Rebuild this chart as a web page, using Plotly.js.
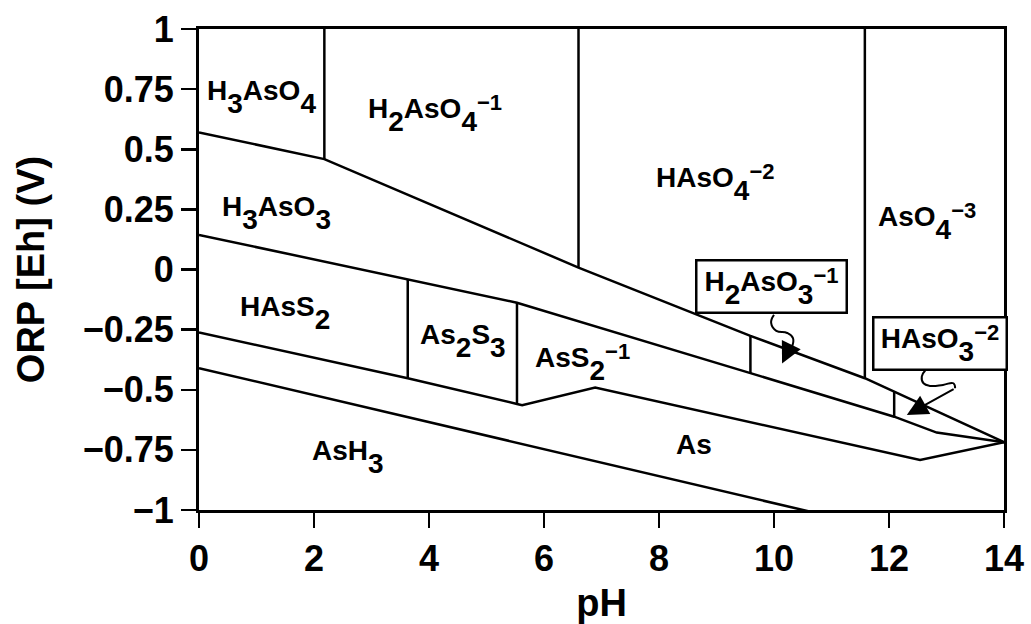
<!DOCTYPE html>
<html>
<head>
<meta charset="utf-8">
<script src="https://cdn.plot.ly/plotly-3.0.1.min.js"></script>
<style>
  html, body { margin: 0; padding: 0; background: #fff; }
  #chart { width: 1031px; height: 624px; }
</style>
</head>
<body>
<div id="chart"></div>
<script>
// ---- Data read from the Pourbaix (Eh-pH) diagram of arsenic ----
// As(V)/As(III) redox boundary
var redoxUpperPH = [0, 2.18, 6.6, 9.59, 11.58, 14];
var redoxUpperE  = [0.570, 0.459, 0.008, -0.276, -0.452, -0.718];
// As(III) oxyanion / sulfide boundary
var sulfideUpperPH = [0, 3.63, 5.53, 9.59, 12.09, 12.83, 14];
var sulfideUpperE  = [0.144, -0.043, -0.138, -0.431, -0.612, -0.678, -0.718];
// sulfide / native As boundary
var arsenicUpperPH = [0, 3.63, 5.53, 5.62, 6.89, 12.54, 14];
var arsenicUpperE  = [-0.262, -0.452, -0.559, -0.564, -0.491, -0.792, -0.718];
// As / AsH3 boundary
var arsineUpperPH = [0, 10.72];
var arsineUpperE  = [-0.410, -1.012];
// vertical (acid-base) boundaries
var vertPH     = [2.18, 6.6, 11.58, 3.63, 5.53, 9.59, 12.09];
var vertTopE   = [1, 1, 1, -0.043, -0.138, -0.276, -0.508];
var vertBotE   = [0.459, 0.008, -0.452, -0.452, -0.559, -0.431, -0.612];

// species labels (formula parts: base text, subscript digits, charges)
function sub(d) { return '<sub><span style="font-size:28px;baseline-shift:-7px">' + d + '</span></sub>'; }
function sup(s) { return '<sup><span style="font-size:22px;baseline-shift:-4px">' + s + '</span></sup>'; }
var labelText = [
  'H' + sub('3') + 'AsO' + sub('4'),
  'H' + sub('2') + 'AsO' + sub('4') + sup('\u22121'),
  'H' + sub('3') + 'AsO' + sub('3'),
  'HAsO' + sub('4') + sup('\u22122'),
  'AsO' + sub('4') + sup('\u22123'),
  'HAsS' + sub('2'),
  'As' + sub('2') + 'S' + sub('3'),
  'AsS' + sub('2') + sup('\u22121'),
  'AsH' + sub('3'),
  'As'
];
var labelPH = [1.085, 4.10, 1.34, 8.97, 12.66, 1.50, 4.59, 6.67, 2.59, 8.61];
var labelE  = [0.717, 0.648, 0.236, 0.360, 0.201, -0.181, -0.297, -0.386, -0.781, -0.727];

// boxed labels with squiggly pointers
var boxText = [
  'H' + sub('2') + 'AsO' + sub('3') + sup('\u22121'),
  'HAsO' + sub('3') + sup('\u22122')
];
var boxPH = [9.95, 12.88];
var boxE  = [-0.071, -0.306];

var squiggle1PH = [10.00, 9.95, 10.04, 10.23, 10.33, 10.31, 10.23];
var squiggle1E  = [-0.189, -0.222, -0.255, -0.264, -0.285, -0.322, -0.347];
var arrow1TipPH = 10.14, arrow1TipE = -0.391;

var squiggle2PH = [12.63, 12.57, 12.60, 12.71, 12.94, 13.12, 13.15];
var squiggle2E  = [-0.420, -0.445, -0.473, -0.484, -0.480, -0.473, -0.494];
var arrow2TipPH = 12.31, arrow2TipE = -0.605;

var xTickVals = [0, 2, 4, 6, 8, 10, 12, 14];
var xTickText = ['0', '2', '4', '6', '8', '10', '12', '14'];
var yTickVals = [-1, -0.75, -0.5, -0.25, 0, 0.25, 0.5, 0.75, 1];
var yTickText = ['\u22121', '\u22120.75', '\u22120.5', '\u22120.25', '0', '0.25', '0.5', '0.75', '1'];

// ---- Build traces ----
var FONT = 'Arial, "Liberation Sans", Helvetica, sans-serif';
var lineStyle = { color: '#000', width: 2.5 };

function lineTrace(x, y, extra) {
  return { x: x, y: y, mode: 'lines', type: 'scatter', hoverinfo: 'skip',
           showlegend: false, line: Object.assign({}, lineStyle, extra || {}) };
}

var vx = [], vy = [];
for (var i = 0; i < vertPH.length; i++) {
  vx.push(vertPH[i], vertPH[i], null);
  vy.push(vertTopE[i], vertBotE[i], null);
}

var traces = [
  lineTrace(redoxUpperPH, redoxUpperE),
  lineTrace(sulfideUpperPH, sulfideUpperE),
  lineTrace(arsenicUpperPH, arsenicUpperE),
  lineTrace(arsineUpperPH, arsineUpperE),
  lineTrace(vx, vy),
  lineTrace(squiggle1PH, squiggle1E, { width: 2, shape: 'spline', smoothing: 1.3 }),
  lineTrace(squiggle2PH, squiggle2E, { width: 2, shape: 'spline', smoothing: 1.3 })
];

var labelFont = { family: FONT, size: 28, color: '#000', weight: 'bold' };
var annotations = [];
for (var j = 0; j < labelText.length; j++) {
  annotations.push({
    x: labelPH[j], y: labelE[j], xref: 'x', yref: 'y', text: labelText[j],
    showarrow: false, xanchor: 'center', yanchor: 'middle', font: labelFont
  });
}
var boxW = [148, 131];
for (var k = 0; k < boxText.length; k++) {
  annotations.push({
    x: boxPH[k], y: boxE[k], xref: 'x', yref: 'y', text: boxText[k],
    showarrow: false, xanchor: 'center', yanchor: 'middle',
    bordercolor: '#000', borderwidth: 2.5, borderpad: 0,
    width: boxW[k], height: 50, bgcolor: '#fff', font: labelFont
  });
}
annotations.push({
  x: arrow1TipPH, y: arrow1TipE, xref: 'x', yref: 'y',
  ax: squiggle1PH[squiggle1PH.length - 1], ay: squiggle1E[squiggle1E.length - 1],
  axref: 'x', ayref: 'y', text: '', showarrow: true,
  arrowhead: 2, arrowsize: 2.1, arrowwidth: 2, arrowcolor: '#000', standoff: 0
});
annotations.push({
  x: arrow2TipPH, y: arrow2TipE, xref: 'x', yref: 'y',
  ax: squiggle2PH[squiggle2PH.length - 1], ay: squiggle2E[squiggle2E.length - 1],
  axref: 'x', ayref: 'y', text: '', showarrow: true,
  arrowhead: 2, arrowsize: 2.1, arrowwidth: 2, arrowcolor: '#000', standoff: 0
});

var layout = {
  width: 1031, height: 624,
  margin: { l: 199, r: 27, t: 29, b: 114 },
  paper_bgcolor: '#fff', plot_bgcolor: '#fff',
  showlegend: false,
  xaxis: {
    range: [0, 14], tickmode: 'array', tickvals: xTickVals, ticktext: xTickText,
    ticks: 'outside', ticklen: 15, tickwidth: 2.5, tickcolor: '#000',
    showline: true, linewidth: 3, linecolor: '#000', mirror: true,
    showgrid: false, zeroline: false,
    tickfont: { family: FONT, size: 36, color: '#000', weight: 'bold' },
    title: { text: 'pH', standoff: 16, font: { family: FONT, size: 38, color: '#000', weight: 'bold' } }
  },
  yaxis: {
    range: [-1, 1], tickmode: 'array', tickvals: yTickVals, ticktext: yTickText,
    ticks: 'outside', ticklen: 15, tickwidth: 2.5, tickcolor: '#000',
    showline: true, linewidth: 3, linecolor: '#000', mirror: true,
    showgrid: false, zeroline: false,
    tickfont: { family: FONT, size: 36, color: '#000', weight: 'bold' },
    title: { text: 'ORP [Eh] (V)', standoff: 27, font: { family: FONT, size: 38, color: '#000', weight: 'bold' } }
  },
  annotations: annotations
};

Plotly.newPlot('chart', traces, layout, { staticPlot: true, displayModeBar: false });
</script>
</body>
</html>
